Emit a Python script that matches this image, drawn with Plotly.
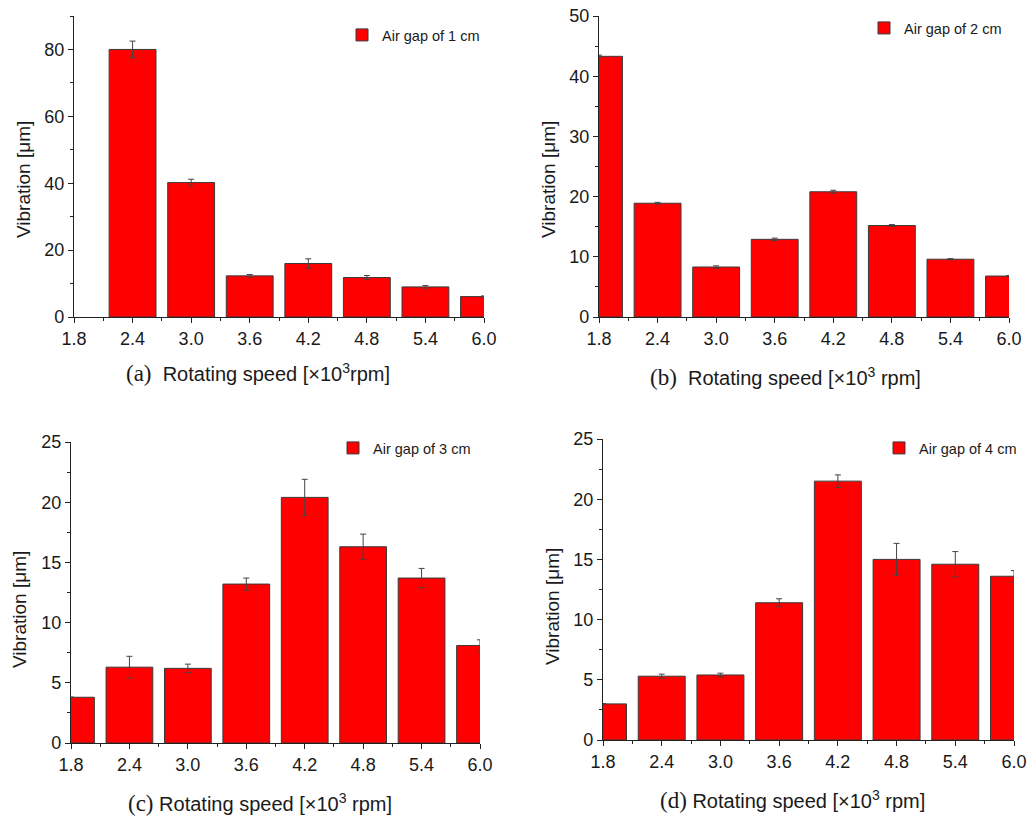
import plotly.graph_objects as go

speeds = [1.8, 2.4, 3.0, 3.6, 4.2, 4.8, 5.4, 6.0]
tick_labels = ["1.8", "2.4", "3.0", "3.6", "4.2", "4.8", "5.4", "6.0"]

vib_1cm = [None, 80.0, 40.2, 12.3, 16.0, 11.8, 9.0, 6.1]
err_1cm = [0, 2.5, 1.0, 0.4, 1.4, 0.6, 0.4, 0.2]

vib_2cm = [43.3, 18.9, 8.3, 12.9, 20.8, 15.2, 9.6, 6.8]
err_2cm = [0.2, 0.15, 0.2, 0.2, 0.25, 0.15, 0.1, 0.1]

vib_3cm = [3.8, 6.3, 6.2, 13.2, 20.4, 16.3, 13.7, 8.1]
err_3cm = [0, 0.9, 0.35, 0.5, 1.5, 1.05, 0.8, 0.47]

vib_4cm = [3.0, 5.3, 5.4, 11.4, 21.5, 15.0, 14.6, 13.6]
err_4cm = [0, 0.17, 0.15, 0.33, 0.52, 1.33, 1.05, 0.47]

series_names = ["Air gap of 1 cm", "Air gap of 2 cm", "Air gap of 3 cm", "Air gap of 4 cm"]
panel_letters = ["(a)", "(b)", "(c)", "(d)"]
y_ranges = [[0, 90], [0, 50], [0, 25], [0, 25]]
y_dticks = [20, 10, 5, 5]

W, H = 1029, 816
# pixel boxes: (left, right, top, bottom)
boxes = [(74, 484, 16, 317), (599, 1009, 16, 317), (71, 480, 442, 743), (603, 1014, 439, 740)]

fig = go.Figure()
all_vals = [vib_1cm, vib_2cm, vib_3cm, vib_4cm]
all_errs = [err_1cm, err_2cm, err_3cm, err_4cm]
FONT = "Liberation Sans, Arial, sans-serif"
TXT = "#1a1a1a"

for i in range(4):
    sfx = "" if i == 0 else str(i + 1)
    leg = "legend" if i == 0 else "legend" + str(i + 1)
    fig.add_trace(go.Bar(
        x=speeds, y=all_vals[i], width=0.48, name=series_names[i],
        marker=dict(color="#ff0000", line=dict(color="#3a3a3a", width=1)),
        error_y=dict(type="data", array=all_errs[i], visible=True,
                     color="#444444", thickness=1, width=3),
        xaxis="x" + sfx, yaxis="y" + sfx, legend=leg, showlegend=True,
    ))
    l, r, t, b = boxes[i]
    xdom = [l / W, r / W]
    ydom = [1 - b / H, 1 - t / H]
    axcommon = dict(showline=True, linecolor="#222", linewidth=1.2, ticks="outside",
                    tickcolor="#222", showgrid=False, zeroline=False,
                    tickfont=dict(family=FONT, size=18, color=TXT), automargin=False)
    fig.update_layout(**{
        "xaxis" + sfx: dict(domain=xdom, range=[1.8, 6.0], tickvals=speeds, ticktext=tick_labels,
                            ticklen=5, anchor="y" + sfx,
                            minor=dict(dtick=0.3, tick0=1.8, ticklen=3, ticks="outside", tickcolor="#222"),
                            **axcommon),
        "yaxis" + sfx: dict(domain=ydom, range=y_ranges[i], dtick=y_dticks[i], ticklen=5,
                            anchor="x" + sfx,
                            minor=dict(dtick=y_dticks[i] / 2, ticklen=3, ticks="outside", tickcolor="#222"),
                            **axcommon),
    })

# legend positions (pixel: left, top)
leg_pos = [(342, 19), (864, 12), (333, 432), (879, 432)]
for i in range(4):
    key = "legend" if i == 0 else "legend" + str(i + 1)
    lx, ly = leg_pos[i]
    fig.update_layout(**{key: dict(x=lx / W, y=1 - ly / H, xanchor="left", yanchor="top",
                                   bgcolor="rgba(0,0,0,0)", borderwidth=0,
                                   font=dict(family=FONT, size=14.5, color=TXT))})

# x axis titles
xt_pos = [(258, 373), (785, 377), (260, 803), (792, 800)]
sup_style = ["[×10<sup>3</sup>rpm]", "[×10<sup>3</sup> rpm]", "[×10<sup>3</sup> rpm]", "[×10<sup>3</sup> rpm]"]
sep = [" ", " ", "", ""]
for i in range(4):
    x, y = xt_pos[i]
    fig.add_annotation(
        x=x / W, y=1 - y / H, xref="paper", yref="paper", showarrow=False,
        text="<span style='font-family:Liberation Serif, Times New Roman, serif;font-size:23px'>"
             + panel_letters[i] + "</span>" + sep[i] + " Rotating speed " + sup_style[i],
        font=dict(family=FONT, size=20, color=TXT), xanchor="center", yanchor="middle")

# y axis titles
yt_pos = [(23, 180), (548, 180), (19, 610), (552, 607)]
for i in range(4):
    x, y = yt_pos[i]
    fig.add_annotation(
        x=x / W, y=1 - y / H, xref="paper", yref="paper", showarrow=False, textangle=-90,
        text="Vibration [μm]", font=dict(family=FONT, size=19, color=TXT),
        xanchor="center", yanchor="middle")

fig.update_layout(width=W, height=H, margin=dict(l=0, r=0, t=0, b=0),
                  plot_bgcolor="white", paper_bgcolor="white", barmode="overlay")

fig.write_html("out.html")
